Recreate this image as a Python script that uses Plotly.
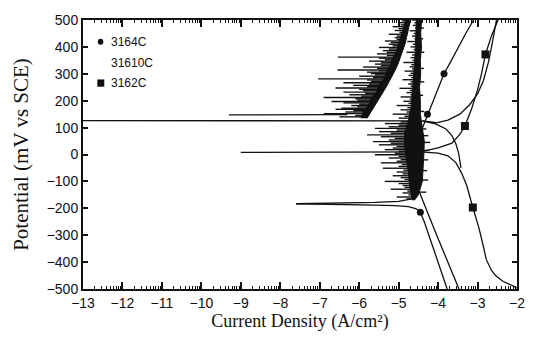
import numpy as np
import plotly.graph_objects as go

# ---------------- data (log current density, potential mV) ----------------
# 3164C : cathodic branch, Ecorr wedge, noisy passive band, reverse branch
c4_cath_x = [-3.77, -3.85, -3.95, -4.05, -4.15, -4.25, -4.35, -4.45, -4.55, -4.75, -5.1, -5.6, -6.3, -7.0, -7.6]
c4_cath_y = [-500, -465, -425, -385, -340, -295, -250, -215, -202, -194, -190, -188, -186, -184, -183]
c4_up_x = [-7.6, -6.5, -5.6, -5.0, -4.7, -4.6]
c4_up_y = [-183, -181, -178, -174, -166, -160]
c4_core_left_x = [-4.65, -4.72, -4.75, -4.8, -4.85, -4.85, -4.75, -4.68, -4.65, -4.63, -4.6, -4.58, -4.56, -4.55, -4.55]
c4_core_left_y = [-170, -120, -70, -20, 30, 80, 130, 180, 230, 280, 330, 380, 430, 480, 500]
c4_core_right_x = [-4.42, -4.44, -4.42, -4.45, -4.44, -4.47, -4.45, -4.45, -4.4, -4.35, -4.36, -4.38, -4.4, -4.5, -4.6]
c4_core_right_y = [500, 450, 400, 350, 300, 250, 200, 150, 100, 50, 0, -50, -100, -150, -170]
c4_spike_y = [-165, -158, -150, -143, -136, -129, -122, -115, -108, -100, -93, -86, -79, -72, -65, -58, -51,
              -44, -37, -31, -25, -19, -13, -7, -1, 5, 12, 18, 24, 30, 36, 42, 48, 54, 60, 66, 73, 79,
              85, 91, 97, 103, 109, 115, 121, 135, 142, 150, 158, 166, 174, 182, 190, 198, 206, 214,
              222, 230, 238, 246, 254, 262, 270, 278, 286, 294, 302, 310, 318, 326, 334, 342, 350,
              360, 370, 380, 390, 400, 410, 420, 430, 440, 450, 460, 470, 480, 490, 500]
c4_spike_x = [-4.8, -5.05, -4.75, -4.9, -4.78, -5.2, -4.85, -4.9, -5.0, -5.35, -4.85, -4.95, -5.15, -4.9,
              -5.05, -4.88, -5.4, -5.0, -4.92, -5.45, -5.05, -4.95, -5.25, -5.0, -5.6, -5.1, -5.0, -5.35,
              -5.15, -5.05, -5.5, -5.2, -5.65, -5.25, -5.1, -5.45, -5.8, -5.2, -5.5, -5.05, -5.6, -5.25,
              -5.0, -5.35, -4.95, -5.0, -4.85, -5.15, -4.8, -4.95, -4.78, -5.05, -4.75, -4.88, -4.72,
              -4.95, -4.7, -4.8, -4.72, -4.98, -4.7, -4.76, -4.7, -4.9, -4.68, -4.75, -4.7, -4.85, -4.66,
              -4.72, -4.68, -4.88, -4.65, -4.7, -4.66, -4.8, -4.62, -4.7, -4.64, -4.78, -4.6, -4.66,
              -4.62, -4.72, -4.58, -4.64, -4.6, -4.66]
c4_rspike_y = [-140, -95, -60, -20, 15, 45, 70, 95, 160, 220, 270, 320, 380, 430, 470]
c4_rspike_x = [-4.3, -4.25, -4.28, -4.25, -4.22, -4.2, -4.25, -4.3, -4.35, -4.38, -4.35, -4.36, -4.35, -4.38, -4.36]
c4_rev_x = [-4.5, -4.42, -4.35, -4.27, -4.12, -4.0, -3.85, -3.68, -3.5, -3.3, -3.1]
c4_rev_y = [60, 90, 120, 150, 200, 250, 300, 345, 395, 450, 500]
c4_mark_x = [-4.45, -4.27, -3.85]
c4_mark_y = [-215, 150, 300]

# 31610C : long Ecorr line, anodic and cathodic branches, noisy diagonal band
c10_ecorr_x = [-13.0, -10.0, -7.0, -5.5, -4.8, -4.4]
c10_ecorr_y = [126, 126, 127, 127, 127, 125]
c10_anod_x = [-4.4, -4.05, -3.75, -3.45, -3.2, -3.0, -2.85, -2.72, -2.62, -2.52]
c10_anod_y = [125, 118, 128, 150, 185, 225, 275, 345, 420, 500]
c10_cath_x = [-4.4, -4.05, -3.8, -3.65, -3.55, -3.48, -3.42]
c10_cath_y = [125, 113, 95, 70, 40, 5, -50]
c10_low_x = [-3.47, -3.6, -3.75, -3.9, -4.05, -4.2, -4.32, -4.42, -4.5, -4.55]
c10_low_y = [-500, -455, -405, -350, -295, -240, -195, -160, -130, -100]
c10_spike147_x = [-9.3, -8.0, -7.0, -6.3]
c10_spike147_y = [147, 147, 147, 148]
c10_core_left_x = [-5.95, -5.9, -5.75, -5.7, -5.55, -5.5, -5.35, -5.3, -5.2, -5.15, -5.05, -5.0, -4.95, -4.9, -4.85, -4.82]
c10_core_left_y = [135, 160, 185, 210, 235, 260, 285, 310, 335, 360, 385, 410, 435, 460, 485, 500]
c10_core_right_x = [-4.7, -4.72, -4.76, -4.8, -4.84, -4.9, -4.95, -5.02, -5.1, -5.18, -5.28, -5.38, -5.48, -5.58, -5.68, -5.8]
c10_core_right_y = [500, 485, 460, 435, 410, 385, 360, 335, 310, 285, 260, 235, 210, 185, 160, 135]
c10_spike_y = [140, 145, 152, 158, 163, 168, 172, 177, 182, 187, 192, 197, 202, 207, 212, 217, 222, 227,
               232, 237, 242, 247, 252, 257, 262, 267, 272, 277, 281, 286, 291, 296, 301, 306, 311, 314,
               320, 325, 330, 336, 341, 347, 352, 358, 362, 368, 374, 380, 386, 392, 398, 404, 410, 416,
               422, 428, 434, 440, 447, 454, 461, 468, 475, 482, 490, 497]
c10_spike_x = [-6.5, -6.1, -6.9, -6.35, -6.15, -6.6, -6.45, -6.05, -6.2, -6.0, -6.4, -6.7, -6.05, -6.1, -6.9,
               -5.95, -6.25, -5.85, -6.4, -5.9, -6.0, -6.6, -5.8, -6.15, -5.75, -6.4, -5.7, -5.8, -7.04,
               -5.65, -6.0, -5.6, -5.7, -5.8, -5.5, -6.55, -5.55, -5.9, -5.45, -5.6, -5.45, -5.75, -5.35,
               -5.5, -6.54, -5.3, -5.55, -5.3, -5.4, -5.25, -5.5, -5.15, -5.25, -5.2, -5.35, -5.05, -5.1,
               -5.05, -5.25, -4.98, -5.1, -5.0, -5.15, -4.95, -5.0, -4.92]

# 3162C : Ecorr spike, anodic branch, cathodic branch
c2_ecorr_x = [-9.0, -7.0, -5.5, -4.7, -4.45]
c2_ecorr_y = [8, 9, 10, 11, 10]
c2_anod_x = [-4.45, -4.0, -3.65, -3.45, -3.32, -3.15, -3.0, -2.9, -2.8, -2.65, -2.48]
c2_anod_y = [10, 25, 42, 75, 106, 170, 240, 300, 372, 440, 500]
c2_cath_x = [-4.45, -4.0, -3.75, -3.55, -3.4, -3.27, -3.12, -2.97, -2.85, -2.78, -2.65, -2.53, -2.35,
             -2.18, -2.05, -2.0]
c2_cath_y = [10, 5, -5, -30, -70, -117, -197, -270, -343, -390, -430, -452, -472, -482, -492, -497]
c2_mark_x = [-3.32, -2.8, -3.12]
c2_mark_y = [106, 372, -197]

x_ticks = list(range(-13, -1))
y_ticks = list(range(-500, 501, 100))
legend_names = ["3164C", "31610C", "3162C"]


def join(*segs):
    xs, ys = [], []
    for sx, sy in segs:
        xs += list(sx) + [None]
        ys += list(sy) + [None]
    return xs, ys


def spikes(ys, xs_tip, core_x, core_y, inset):
    # each spike runs from its tip to the band core at the same potential
    order = np.argsort(core_y)
    cy = np.asarray(core_y)[order]
    cx = np.asarray(core_x)[order]
    segs = []
    for y, x0 in zip(ys, xs_tip):
        x1 = float(np.interp(y, cy, cx)) + inset
        segs.append(([x0, x1], [y, y]))
    return join(*segs)


fig = go.Figure()
ink = "#111111"
lw = 1.3

# band cores
fig.add_trace(go.Scatter(x=c4_core_left_x + c4_core_right_x, y=c4_core_left_y + c4_core_right_y,
                         mode="lines", fill="toself", fillcolor=ink, line=dict(color=ink, width=1)))
fig.add_trace(go.Scatter(x=c10_core_left_x + c10_core_right_x, y=c10_core_left_y + c10_core_right_y,
                         mode="lines", fill="toself", fillcolor=ink, line=dict(color=ink, width=1)))
# spikes
sx, sy = spikes(c4_spike_y, c4_spike_x, c4_core_left_x, c4_core_left_y, 0.05)
fig.add_trace(go.Scatter(x=sx, y=sy, mode="lines", line=dict(color=ink, width=1.4)))
sx, sy = spikes(c4_rspike_y, c4_rspike_x, c4_core_right_x, c4_core_right_y, -0.05)
fig.add_trace(go.Scatter(x=sx, y=sy, mode="lines", line=dict(color=ink, width=1.4)))
sx, sy = spikes(c10_spike_y, c10_spike_x, c10_core_left_x, c10_core_left_y, 0.05)
fig.add_trace(go.Scatter(x=sx, y=sy, mode="lines", line=dict(color=ink, width=1.4)))

x4, y4 = join((c4_cath_x, c4_cath_y), (c4_up_x, c4_up_y), (c4_rev_x, c4_rev_y))
fig.add_trace(go.Scatter(x=x4, y=y4, mode="lines", line=dict(color=ink, width=lw), name=legend_names[0]))
x10, y10 = join((c10_ecorr_x, c10_ecorr_y), (c10_anod_x, c10_anod_y), (c10_cath_x, c10_cath_y),
                (c10_low_x, c10_low_y), (c10_spike147_x, c10_spike147_y))
fig.add_trace(go.Scatter(x=x10, y=y10, mode="lines", line=dict(color=ink, width=lw), name=legend_names[1]))
x2, y2 = join((c2_ecorr_x, c2_ecorr_y), (c2_anod_x, c2_anod_y), (c2_cath_x, c2_cath_y))
fig.add_trace(go.Scatter(x=x2, y=y2, mode="lines", line=dict(color=ink, width=lw), name=legend_names[2]))

fig.add_trace(go.Scatter(x=c4_mark_x, y=c4_mark_y, mode="markers",
                         marker=dict(symbol="circle", size=7, color=ink)))
fig.add_trace(go.Scatter(x=c2_mark_x, y=c2_mark_y, mode="markers",
                         marker=dict(symbol="square", size=8, color=ink)))

# minor (log-decade) ticks on an overlay axis
minor = [d + np.log10(k) for d in x_ticks[:-1] for k in range(2, 10)]
fig.add_trace(go.Scatter(x=[None], y=[None], xaxis="x2"))

axis_font = dict(family="Liberation Sans, Arial, sans-serif", size=14, color=ink)
xtitle_font = dict(family="Liberation Serif, Times New Roman, serif", size=18, color=ink)
ytitle_font = dict(family="Liberation Serif, Times New Roman, serif", size=21, color=ink)

fig.update_layout(
    width=537, height=350,
    margin=dict(l=83, r=13, t=16, b=61),
    paper_bgcolor="white", plot_bgcolor="white",
    showlegend=False,
    xaxis=dict(range=[-13, -2], tickvals=x_ticks, ticks="inside", ticklen=7, tickwidth=1.5,
               tickcolor=ink, showline=True, linewidth=2, linecolor=ink, mirror="ticks",
               showgrid=False, zeroline=False, tickfont=axis_font,
               title=dict(text="Current Density (A/cm²)", font=xtitle_font, standoff=4)),
    xaxis2=dict(range=[-13, -2], overlaying="x", anchor="y", side="bottom",
                tickvals=minor, ticks="inside", ticklen=3, tickwidth=1, tickcolor=ink,
                showticklabels=False, showline=False, showgrid=False, zeroline=False, mirror="ticks"),
    yaxis=dict(range=[-500, 500], tickvals=y_ticks, ticks="inside", ticklen=5, tickwidth=1.5,
               tickcolor=ink, showline=True, linewidth=2, linecolor=ink, mirror="ticks",
               showgrid=False, zeroline=False, tickfont=axis_font,
               title=dict(text="Potential (mV vs SCE)", font=ytitle_font, standoff=12)),
)

leg_font = dict(family="Liberation Sans, Arial, sans-serif", size=12, color=ink)
leg_y = [0.919, 0.842, 0.766]
for name, yy in zip(legend_names, leg_y):
    fig.add_annotation(x=0.059, y=yy, xref="paper", yref="paper", text=name, showarrow=False,
                       xanchor="left", yanchor="middle", font=leg_font)
fig.add_shape(type="circle", xref="paper", yref="paper", x0=0.034, x1=0.047, y0=0.908, y1=0.930,
              fillcolor=ink, line=dict(color=ink, width=0))
fig.add_shape(type="rect", xref="paper", yref="paper", x0=0.033, x1=0.049, y0=0.752, y1=0.779,
              fillcolor=ink, line=dict(color=ink, width=0))

fig.write_html("out.html")
